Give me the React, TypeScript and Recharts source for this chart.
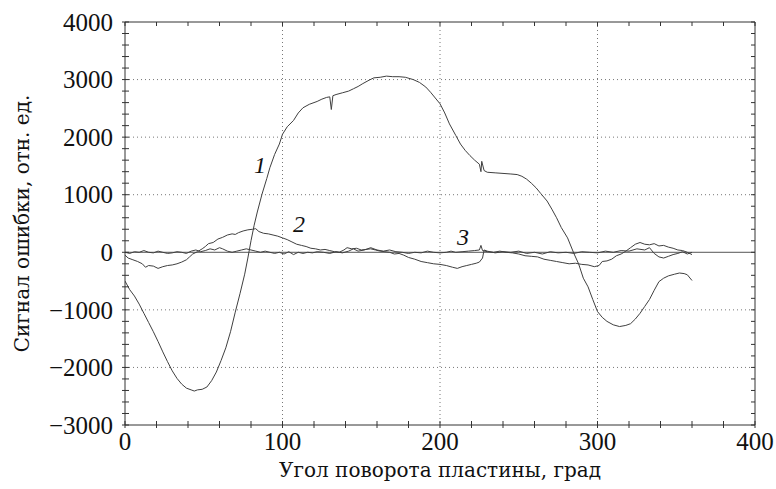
import React from 'react';
import { LineChart, Line, XAxis, YAxis, CartesianGrid, ReferenceLine, ReferenceDot } from 'recharts';

// Curve 1
const s1x = [0, 3, 6, 9, 12, 15, 18, 21, 24, 27, 30, 33, 36, 39, 42, 44, 46, 49, 52, 55, 58, 61, 64, 67, 70, 73, 76, 78, 80, 82, 84, 87, 90, 92, 95, 98, 100, 103, 107, 110, 113, 117, 122, 125, 128, 130, 131, 132, 134, 138, 142, 145, 148, 151, 155, 158, 162, 166, 170, 174, 178, 183, 187, 191, 194, 197, 200, 203, 206, 210, 213, 216, 219, 222, 225, 226, 226.5, 228, 230, 235, 240, 245, 249, 252, 255, 258, 261, 264, 268, 271, 274, 277, 281, 285, 288, 291, 294, 297, 300, 303, 306, 310, 314, 318, 321, 324, 327, 330, 333, 336, 339, 342, 345, 349, 352, 355, 357, 360];
const s1y = [-500, -650, -760, -900, -1060, -1220, -1380, -1550, -1730, -1900, -2060, -2190, -2290, -2360, -2390, -2410, -2390, -2380, -2340, -2230, -2080, -1880, -1660, -1380, -1040, -720, -380, -100, 200, 470, 700, 1010, 1280, 1470, 1700, 1880, 2050, 2180, 2290, 2420, 2510, 2570, 2620, 2660, 2690, 2700, 2480, 2720, 2740, 2770, 2800, 2840, 2880, 2930, 2990, 3030, 3040, 3060, 3050, 3050, 3040, 3000, 2950, 2870, 2780, 2680, 2580, 2420, 2230, 2030, 1880, 1770, 1680, 1600, 1530, 1400, 1580, 1420, 1390, 1380, 1370, 1360, 1350, 1320, 1270, 1200, 1120, 1020, 890, 750, 600, 430, 250, -20, -200, -450, -600, -820, -1030, -1130, -1200, -1260, -1290, -1270, -1240, -1160, -1060, -940, -820, -660, -510, -450, -410, -380, -360, -370, -390, -490];

// Curve 2
const s2x = [0, 2, 5, 8, 11, 13, 15, 18, 21, 24, 27, 30, 33, 36, 39, 41, 43, 46, 49, 51, 53, 56, 59, 62, 65, 68, 70, 72, 75, 78, 81, 83, 85, 88, 91, 94, 97, 100, 103, 106, 109, 112, 115, 118, 121, 124, 127, 130, 133, 136, 139, 141, 144, 147, 150, 153, 156, 159, 162, 165, 168, 171, 174, 177, 180, 184, 188, 192, 196, 200, 204, 208, 211, 214, 217, 220, 223, 225, 227, 228, 230, 235, 240, 245, 250, 255, 260, 265, 270, 275, 280, 285, 290, 295, 300, 305, 310, 315, 320, 325, 330, 333, 336, 339, 342, 345, 348, 351, 354, 357, 360];
const s2y = [-50, -100, -130, -160, -200, -260, -230, -240, -280, -250, -230, -220, -200, -170, -130, -80, -30, 10, 60, 100, 150, 170, 230, 260, 300, 320, 310, 340, 370, 390, 400, 410, 360, 330, 320, 300, 280, 250, 220, 180, 140, 120, 100, 70, 60, 40, 50, 30, 10, 0, 40, 80, 60, 70, 40, 50, 60, 40, 20, 10, 0, -30, -20, -50, -90, -120, -160, -180, -200, -210, -230, -260, -280, -250, -230, -210, -190, -170, -100, 40, 20, -10, 10, 0, 20, -20, 0, -30, 10, -10, 0, -20, 10, 0, -10, 20, 0, 30, 20, 60, 40, 80, -20, -80, -100, -70, -40, -20, 10, -30, 0];

// Curve 3
const s3x = [0, 3, 6, 9, 12, 15, 18, 21, 24, 27, 30, 33, 36, 39, 42, 45, 48, 51, 54, 57, 60, 62, 65, 68, 71, 74, 77, 80, 83, 86, 89, 92, 95, 98, 101, 104, 107, 110, 113, 116, 119, 122, 126, 130, 134, 138, 142, 145, 148, 152, 156, 160, 164, 168, 172, 176, 180, 184, 188, 192, 196, 200, 204, 207, 210, 214, 218, 222, 225, 226, 227, 230, 234, 238, 242, 246, 250, 254, 258, 262, 266, 270, 274, 278, 282, 286, 290, 294, 298, 301, 303, 306, 309, 312, 315, 318, 321, 324, 327, 330, 333, 336, 339, 342, 345, 348, 351, 354, 357, 360];
const s3y = [0, -20, 10, 0, 30, 0, -10, 20, 0, -20, -10, 10, 0, -20, 20, 40, 10, 30, 60, 40, 80, 60, 20, 0, 20, 40, 60, 40, 20, 0, 20, 0, -20, 0, -30, 10, -40, 0, -20, 0, -10, 10, 0, -20, 10, -10, 20, 60, 20, 40, 80, 40, 20, 40, 10, 0, -20, 0, -10, 20, 0, -10, 0, 20, 0, 10, 20, 30, 40, 120, 30, 10, 0, 20, 0, -10, -30, -60, -70, -80, -120, -140, -160, -180, -200, -190, -210, -220, -250, -230, -160, -150, -120, -60, -30, 20, 80, 140, 170, 140, 130, 150, 110, 120, 90, 70, 40, 30, 0, -40];

const xTicks = [0, 20, 40, 60, 80, 100, 120, 140, 160, 180, 200, 220, 240, 260, 280, 300, 320, 340, 360, 380, 400];
const xMajor = [0, 100, 200, 300, 400];
const yTicks = [-3000, -2800, -2600, -2400, -2200, -2000, -1800, -1600, -1400, -1200, -1000, -800, -600, -400, -200, 0, 200, 400, 600, 800, 1000, 1200, 1400, 1600, 1800, 2000, 2200, 2400, 2600, 2800, 3000, 3200, 3400, 3600, 3800, 4000];
const yMajor = [-3000, -2000, -1000, 0, 1000, 2000, 3000, 4000];
const gridX = [100, 200, 300];
const gridY = [-2000, -1000, 1000, 2000, 3000];

const curveLabels = [
  { text: '1', x: 85.7, y: 1520 },
  { text: '2', x: 110.5, y: 490 },
  { text: '3', x: 214.6, y: 265 },
];

const zip = (xs: number[], ys: number[]) => xs.map((x, i) => ({ x, y: ys[i] }));
const d1 = zip(s1x, s1y);
const d2 = zip(s2x, s2y);
const d3 = zip(s3x, s3y);

const FONT = '"Liberation Serif", "DejaVu Serif", serif';
const TITLE_FONT = '"DejaVu Serif", "Liberation Serif", serif';
const AX = '#333';
const CURVE = '#404040';

const fmt = (v: number) => (v < 0 ? '\u2212' + Math.abs(v) : String(v));

const BottomTick = (p: any) => {
  const { x, y, payload } = p;
  const major = xMajor.includes(payload.value);
  return (
    <g>
      <line x1={x} x2={x} y1={y - 4} y2={y + 3} stroke={AX} strokeWidth={1} />
      {major && (
        <text x={x} y={y + 25} textAnchor="middle" fontFamily={FONT} fontSize={25} fill="#111">
          {fmt(payload.value)}
        </text>
      )}
    </g>
  );
};

const TopTick = (p: any) => {
  const { x, y } = p;
  return <line x1={x} x2={x} y1={y} y2={y + 4} stroke={AX} strokeWidth={1} />;
};

const LeftTick = (p: any) => {
  const { x, y, payload } = p;
  const major = yMajor.includes(payload.value);
  return (
    <g>
      <line x1={x - 3} x2={x + 4} y1={y} y2={y} stroke={AX} strokeWidth={1} />
      {major && (
        <text x={x - 12} y={y} dy="0.35em" textAnchor="end" fontFamily={FONT} fontSize={25} fill="#111">
          {fmt(payload.value)}
        </text>
      )}
    </g>
  );
};

const RightTick = (p: any) => {
  const { x, y } = p;
  return <line x1={x - 4} x2={x} y1={y} y2={y} stroke={AX} strokeWidth={1} />;
};

const YLabel = (p: any) => {
  const vb = p.viewBox || { x: 0, y: 22, width: 125, height: 403 };
  const cx = 22;
  const cy = vb.y + vb.height / 2;
  return (
    <text x={cx} y={cy} dy="0.35em" textAnchor="middle" fontFamily={TITLE_FONT} fontSize={20} fill="#111" transform={`rotate(-90 ${cx} ${cy})`}>
      Сигнал ошибки, отн. ед.
    </text>
  );
};

const XLabel = (p: any) => {
  const vb = p.viewBox || { x: 125, y: 425, width: 630, height: 64 };
  return (
    <text x={vb.x + vb.width / 2} y={477} textAnchor="middle" fontFamily={TITLE_FONT} fontSize={20} fill="#111">
      Угол поворота пластины, град
    </text>
  );
};

const CurveLabel = (text: string) => (p: any) => {
  const vb = p.viewBox || { x: 0, y: 0, width: 0, height: 0 };
  return (
    <text x={vb.x + (vb.width || 0) / 2} y={vb.y + (vb.height || 0) / 2} dy="0.35em" textAnchor="middle" fontFamily={FONT} fontStyle="italic" fontSize={24} fill="#111">
      {text}
    </text>
  );
};

export default function App() {
  return (
    <div style={{ position: 'fixed', left: 0, top: 0, width: 776, height: 489, overflow: 'hidden', background: '#fff' }}>
      <LineChart width={776} height={489} margin={{ top: 21, right: 20, bottom: 0, left: 0 }}>
        <CartesianGrid horizontal vertical horizontalValues={gridY} verticalValues={gridX} stroke="#777" strokeDasharray="1 3" />
        <XAxis
          dataKey="x"
          type="number"
          domain={[0, 400]}
          ticks={xTicks}
          interval={0}
          allowDataOverflow
          height={64}
          tickSize={0}
          tickMargin={0}
          tick={BottomTick}
          stroke={AX}
          label={<XLabel />}
        />
        <XAxis
          xAxisId="top"
          orientation="top"
          dataKey="x"
          type="number"
          domain={[0, 400]}
          ticks={xTicks}
          interval={0}
          allowDataOverflow
          height={1}
          tickSize={0}
          tickMargin={0}
          tick={TopTick}
          stroke={AX}
        />
        <YAxis
          type="number"
          domain={[-3000, 4000]}
          ticks={yTicks}
          interval={0}
          allowDataOverflow
          width={125}
          tickSize={0}
          tickMargin={0}
          tick={LeftTick}
          stroke={AX}
          label={<YLabel />}
        />
        <YAxis
          yAxisId="right"
          orientation="right"
          type="number"
          domain={[-3000, 4000]}
          ticks={yTicks}
          interval={0}
          allowDataOverflow
          width={1}
          tickSize={0}
          tickMargin={0}
          tick={RightTick}
          stroke={AX}
        />
        <ReferenceLine y={0} stroke="#555" strokeWidth={1} />
        <Line data={d1} dataKey="y" type="linear" stroke={CURVE} strokeWidth={1} dot={false} isAnimationActive={false} />
        <Line data={d2} dataKey="y" type="linear" stroke={CURVE} strokeWidth={1} dot={false} isAnimationActive={false} />
        <Line data={d3} dataKey="y" type="linear" stroke={CURVE} strokeWidth={1} dot={false} isAnimationActive={false} />
        {curveLabels.map((c) => (
          <ReferenceDot key={c.text} x={c.x} y={c.y} r={0} fill="none" stroke="none" label={CurveLabel(c.text)} />
        ))}
      </LineChart>
    </div>
  );
}
